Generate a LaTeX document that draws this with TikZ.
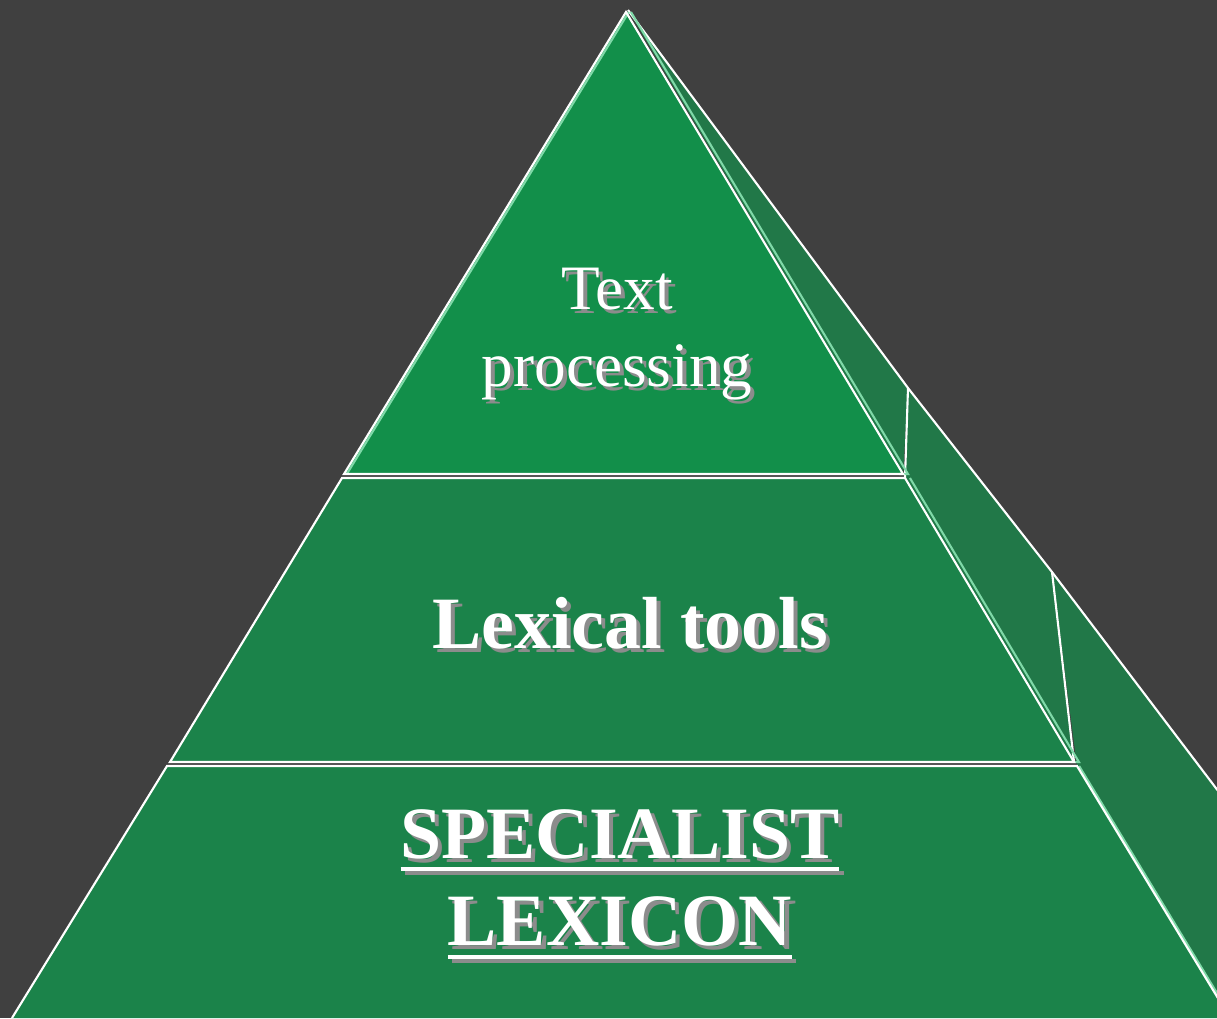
\documentclass[tikz,border=0pt]{standalone}
\usepackage{fontspec}
\setmainfont{Liberation Serif}

\definecolor{backdrop}{HTML}{404040}
\definecolor{topgreen}{HTML}{128F4A}
\definecolor{bandgreen}{HTML}{1B834A}
\definecolor{sidegreen}{HTML}{217848}
\definecolor{glowgreen}{HTML}{7FD9A8}
\definecolor{shadowgray}{HTML}{8C8C8C}

\newcommand{\dropshadow}[1]{\leavevmode\rlap{\hspace{1.2pt}\raisebox{-1.2pt}{\color{shadowgray}#1}}#1}
\newcommand{\thickuline}[1]{\vtop{\hbox{#1}\kern2.4pt\hrule height 1.1pt}}

\begin{document}
\begin{tikzpicture}[x=0.1mm, y=-0.1mm,
    edge/.style={draw=white, line width=0.6pt},
    glow/.style={draw=glowgreen, line width=0.6pt},
    label/.style={text=white, align=center, inner sep=0pt}]
    \fill[backdrop] (0,0) rectangle (1217,1018);
    \clip (0,0) rectangle (1217,1018);

    \coordinate (apex) at (626,12);
    \coordinate (tl) at (344,474);
    \coordinate (tr) at (903,474);
    \coordinate (ml) at (342,478);
    \coordinate (mr) at (905,478);
    \coordinate (mbl) at (170,762);
    \coordinate (mbr) at (1074,762);
    \coordinate (bl) at (167,766);
    \coordinate (br) at (1077,766);
    \coordinate (bbl) at (12,1018);
    \coordinate (bbr) at (1230,1018);
    \coordinate (s0) at (628,10);
    \coordinate (s1) at (908,388);
    \coordinate (s2) at (1052,572);
    \coordinate (s3) at (1250,833);
    \coordinate (s4) at (1250,1018);

    \fill[sidegreen] (s0) -- (s1) -- (tr) -- cycle;
    \fill[sidegreen] (s1) -- (s2) -- (mbr) -- (mr) -- cycle;
    \fill[sidegreen] (s2) -- (s3) -- (s4) -- (bbr) -- (br) -- cycle;
    \draw[edge] (s0) -- (s1) -- (s2) -- (s3);
    \draw[edge] (s1) -- (mr);
    \draw[edge] (s2) -- (mbr);

    \fill[topgreen] (apex) -- (tl) -- (tr) -- cycle;
    \fill[bandgreen] (ml) -- (mr) -- (mbr) -- (mbl) -- cycle;
    \fill[bandgreen] (bl) -- (br) -- (bbr) -- (bbl) -- cycle;
    \draw[glow] ([xshift=1.4pt]apex) -- ([xshift=1.4pt]tr) -- ([xshift=-1pt]tr);
    \draw[glow] ([xshift=1.4pt]mr) -- ([xshift=1.4pt]mbr) -- ([xshift=-1pt]mbr);
    \draw[glow] ([xshift=0.6pt]br) -- ([xshift=0.6pt]bbr);
    \draw[glow] ([xshift=0.8pt]apex) -- ([xshift=0.8pt]tl);
    \draw[edge] (apex) -- (tl) -- (tr) -- cycle;
    \draw[edge] (ml) -- (mr) -- (mbr) -- (mbl) -- cycle;
    \draw[edge] (bbl) -- (bl) -- (br) -- (bbr);

    \node[label, font=\fontsize{18}{22}\selectfont] (text) at (617,336)
        {\dropshadow{Text}\\\dropshadow{processing}};
    \node[label, font=\bfseries\fontsize{21}{25}\selectfont] (tools) at (630,625)
        {\dropshadow{Lexical tools}};
    \node[label, font=\bfseries\fontsize{21}{24.9}\selectfont] (lexicon) at (620,886)
        {\dropshadow{\thickuline{SPECIALIST}}\\\dropshadow{\thickuline{LEXICON}}};
\end{tikzpicture}
\end{document}
